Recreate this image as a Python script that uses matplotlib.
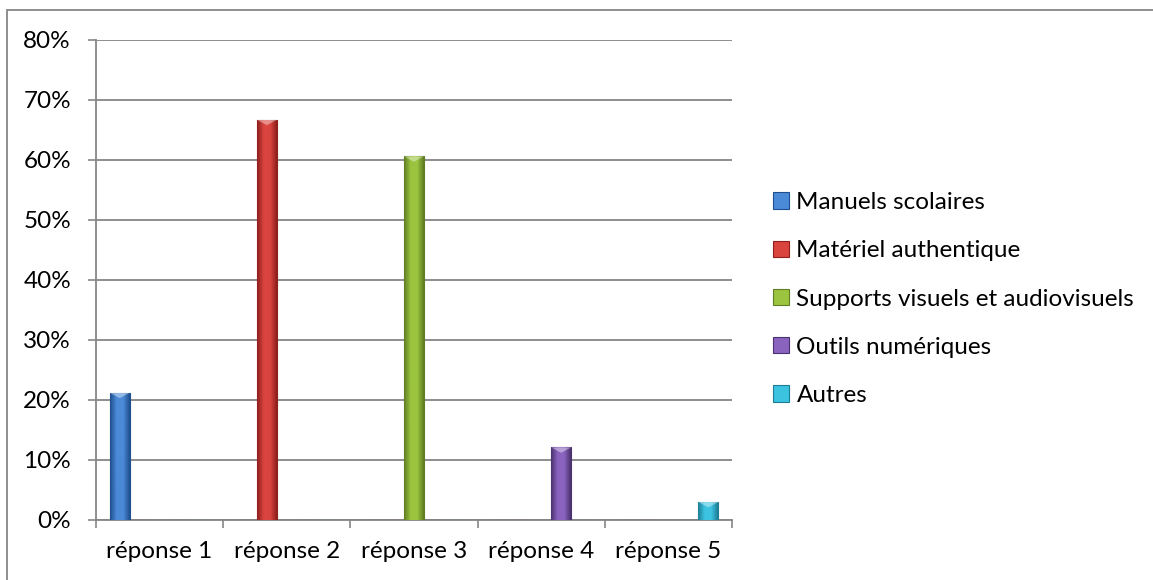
import numpy as np
import matplotlib
matplotlib.use("Agg")
import matplotlib.pyplot as plt
from matplotlib.patches import Rectangle
from matplotlib.colors import LinearSegmentedColormap
from matplotlib.ticker import PercentFormatter

categories = ["réponse 1", "réponse 2", "réponse 3", "réponse 4", "réponse 5"]
series_names = ["Manuels scolaires", "Matériel authentique",
                "Supports visuels et audiovisuels", "Outils numériques", "Autres"]
manuels = [21.2, 0, 0, 0, 0]
materiel = [0, 66.7, 0, 0, 0]
supports = [0, 0, 60.6, 0, 0]
outils = [0, 0, 0, 12.1, 0]
autres = [0, 0, 0, 0, 3.0]
series_values = [manuels, materiel, supports, outils, autres]

# (dark edge, light centre) for each series
palette = [("#1f4f8f", "#4a8ad6"),
           ("#8e1f1c", "#d9443f"),
           ("#5f7d22", "#9cc43f"),
           ("#4a326e", "#8a63bf"),
           ("#1d7f96", "#3cc3e0")]

plt.rcParams["font.family"] = ["Lato", "DejaVu Sans"]
FS = 17.5
W, H = 1153, 580
fig = plt.figure(figsize=(W / 100, H / 100), dpi=100)
ax = fig.add_axes([96 / W, (H - 520) / H, (732 - 96) / W, (520 - 40) / H])

n = len(series_names)
x = np.arange(len(categories))
group_w = 0.785
bar_w = group_w / n
grid_c = "#868686"

handles = []
for i, (name, vals) in enumerate(zip(series_names, series_values)):
    dark, light = palette[i]
    offs = (i - (n - 1) / 2) * bar_w
    bars = ax.bar(x + offs, vals, width=bar_w, color=light, edgecolor=dark,
                  linewidth=0.8, label=name, zorder=3)
    cmap = LinearSegmentedColormap.from_list(name, [dark, light, light, dark])
    grad = np.linspace(0, 1, 64).reshape(1, -1)
    for b in bars:
        h = b.get_height()
        if h <= 0:
            continue
        x0 = b.get_x()
        im = ax.imshow(grad, cmap=cmap, aspect="auto", zorder=3.5,
                       extent=(x0, x0 + b.get_width(), 0, h))
        im.set_clip_path(b)
        # bevel highlight at the top of the bar
        tri_h = 0.9
        ax.fill([x0, x0 + b.get_width(), x0 + b.get_width() / 2],
                [h, h, h - tri_h], color="white", alpha=0.4, zorder=4,
                linewidth=0)
    handles.append(bars)

ax.set_xlim(-0.5, len(categories) - 0.5)
ax.set_ylim(0, 80)
ax.set_yticks(np.arange(0, 81, 10))
ax.yaxis.set_major_formatter(PercentFormatter(decimals=0))
ax.set_xticks(np.arange(-0.5, len(categories), 1.0))
ax.set_xticklabels([])
ax.set_xticks(x, minor=True)
ax.set_xticklabels(categories, minor=True)
ax.tick_params(axis="x", which="minor", length=0, pad=15, labelsize=FS)
ax.tick_params(axis="x", which="major", length=6, color=grid_c, width=1.2)
ax.tick_params(axis="y", length=6, color=grid_c, width=1.2, pad=12,
               labelsize=FS)

ax.grid(axis="y", color=grid_c, linewidth=1.3, zorder=0)
for side in ["top", "right"]:
    ax.spines[side].set_visible(False)
for side in ["left", "bottom"]:
    ax.spines[side].set_color(grid_c)
    ax.spines[side].set_linewidth(1.3)

leg = fig.legend(handles=handles, labels=series_names, loc="upper left",
                 bbox_to_anchor=(761 / W, 1 - 180 / H), frameon=False,
                 fontsize=FS, handlelength=0.66, handleheight=0.66,
                 handletextpad=0.3, labelspacing=1.12, borderpad=0)

# chart frame
fig.add_artist(Rectangle((7 / W, -0.1), 1.2, 1 - 10 / H + 0.1,
                         transform=fig.transFigure, fill=False,
                         edgecolor=grid_c, linewidth=1.3))

fig.savefig("out.png", dpi=100)
